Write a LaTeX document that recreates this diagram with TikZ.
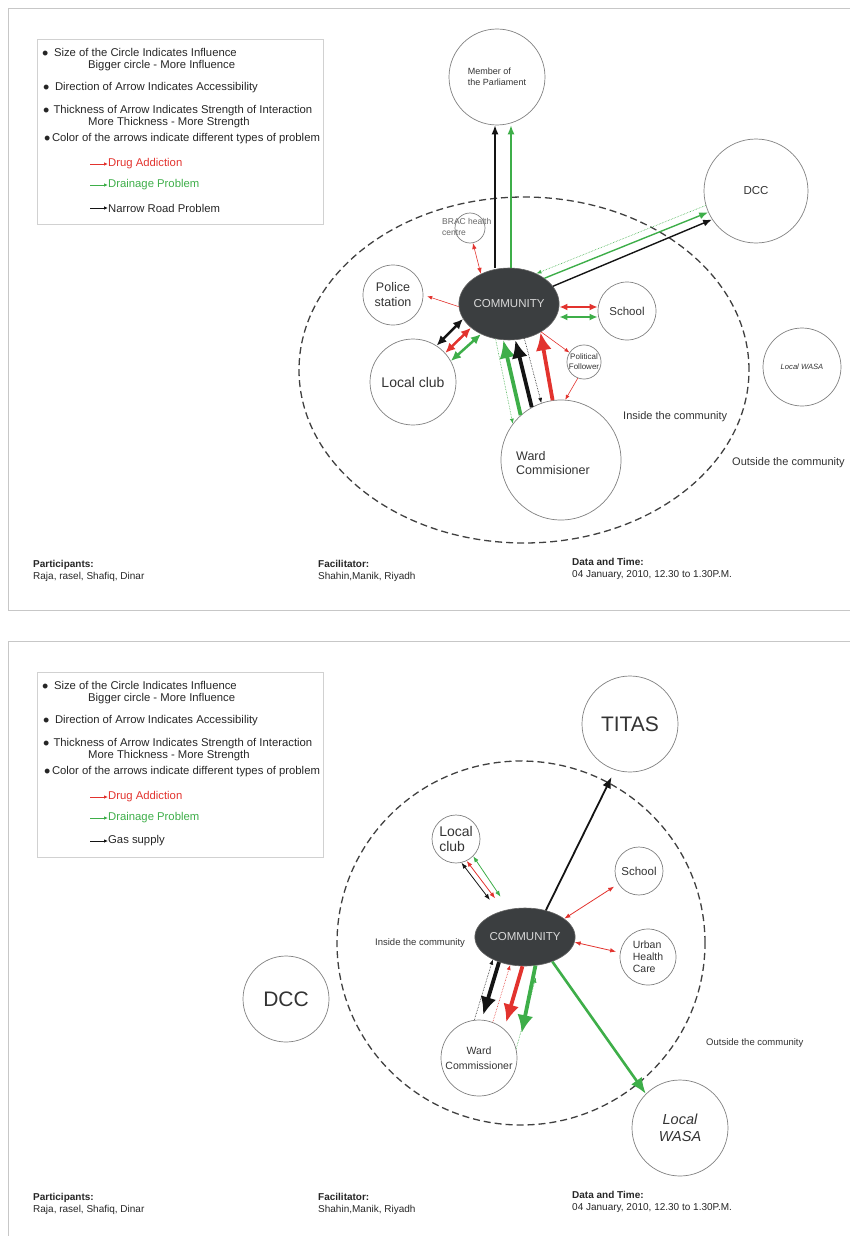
\documentclass[tikz,border=0pt]{standalone}
\usepackage{fontspec}
\setmainfont{Liberation Sans}
\usetikzlibrary{arrows.meta,shapes.geometric}
\definecolor{drug}{HTML}{E2332E}
\definecolor{drain}{HTML}{3EAE49}
\definecolor{road}{HTML}{141414}
\definecolor{hubgray}{HTML}{3B3E40}
\newcommand{\fsz}[2]{\fontsize{#1}{#2}\selectfont}
\newcommand{\dotmark}{\raisebox{-2.6pt}{\fsz{18}{12}\textbullet}}
\tikzset{
  frame/.style={draw=black!22,line width=0.9pt},
  legbox/.style={draw=black!18,line width=0.7pt},
  legtxt/.style={anchor=west,inner sep=0pt,font=\fsz{11.3}{13},text=black!85},
  legarr/.style={line width=0.9pt,-{Latex[length=4pt,width=3.5pt]}},
  foot/.style={anchor=west,align=left,inner sep=0pt,font=\fsz{10}{11.5},text=black!85},
  actor/.style={circle,draw=black!50,line width=0.7pt,inner sep=0pt,align=center,text=black!80},
  hub/.style={ellipse,fill=hubgray,draw=black!60,line width=0.6pt,inner sep=0pt,text=white!85!black},
  bound/.style={draw=black!75,line width=1.3pt,dash pattern=on 7pt off 4pt},
  zone/.style={anchor=west,inner sep=0pt,text=black!80},
  lite/.style={line width=0.6pt,-{Latex[length=5pt,width=4pt]}},
  litex/.style={line width=0.8pt,{Latex[length=6pt,width=4.5pt]}-{Latex[length=6pt,width=4.5pt]}},
  dots/.style={line width=0.6pt,densely dotted,-{Latex[length=5pt,width=4pt]}},
  mid/.style={line width=1.4pt,-{Latex[length=9pt,width=7pt]}},
  midx/.style={line width=1.8pt,{Latex[length=8pt,width=7pt]}-{Latex[length=8pt,width=7pt]}},
  boldx/.style={line width=2.5pt,{Latex[length=10pt,width=9pt]}-{Latex[length=10pt,width=9pt]}},
  bold/.style={line width=3.8pt,-{Latex[length=18pt,width=16pt]}}
}
\begin{document}
\begin{tikzpicture}[x=1pt,y=-1pt]
\useasboundingbox (0,0) rectangle (850,1236);
\draw[frame] (850,8) -- (8,8) -- (8,610) -- (850,610);
\draw[frame] (850,641) -- (8,641) -- (8,1236);

% legend and footer of both panels
\foreach \oy/\last in {0/Narrow Road Problem,633/Gas supply}{
  \draw[legbox] (37,39+\oy) rectangle (323,224+\oy);
  \node[legtxt] (size\oy) at (42,54+\oy) {\dotmark\hspace{5.5pt}Size of the Circle Indicates Influence};
  \node[legtxt] (big\oy) at (88,66+\oy) {Bigger circle - More Influence};
  \node[legtxt] (dir\oy) at (43,88+\oy) {\dotmark\hspace{5.5pt}Direction of Arrow Indicates Accessibility};
  \node[legtxt] (thick\oy) at (43,111+\oy) {\dotmark\hspace{4pt}Thickness of Arrow Indicates Strength of Interaction};
  \node[legtxt] (more\oy) at (88,123+\oy) {More Thickness - More Strength};
  \node[legtxt] (col\oy) at (44,139+\oy) {\dotmark\hspace{1.5pt}Color of the arrows indicate different types of problem};
  \node[legtxt,text=drug] (da\oy) at (108,164+\oy) {Drug Addiction};
  \node[legtxt,text=drain] (dp\oy) at (108,185+\oy) {Drainage Problem};
  \node[legtxt] (third\oy) at (108,208+\oy) {\last};
  \draw[legarr,drug] ([xshift=-18pt]da\oy.west) -- (da\oy.west);
  \draw[legarr,drain] ([xshift=-18pt]dp\oy.west) -- (dp\oy.west);
  \draw[legarr,road] ([xshift=-18pt]third\oy.west) -- (third\oy.west);
  \node[foot] (part\oy) at (33,571+\oy) {\textbf{Participants:}\\Raja, rasel, Shafiq, Dinar};
  \node[foot] (faci\oy) at (318,571+\oy) {\textbf{Facilitator:}\\Shahin,Manik, Riyadh};
  \node[foot] (date\oy) at (572,569+\oy) {\textbf{Data and Time:}\\04 January, 2010, 12.30 to 1.30P.M.};
}

% first panel
\draw[bound] (524,370) ellipse [x radius=225pt, y radius=173pt];
\node[actor,minimum size=96pt,font=\fsz{9}{10.5},align=left] (mp) at (497,77) {Member of\\the Parliament};
\node[actor,minimum size=104pt,font=\fsz{11.5}{13}] (dcc) at (756,191) {DCC};
\node[actor,minimum size=78pt,font=\itshape\fsz{7.6}{9}] (wasa) at (802,367) {Local WASA};
\node[actor,minimum size=30pt] (brac) at (470,228) {};
\node[zone,font=\fsz{8.5}{10.5},text=black!60,align=left] (bractxt) at (442,227) {BRAC health\\centre};
\node[actor,minimum size=60pt,font=\fsz{12.5}{15}] (police) at (393,295) {Police\\station};
\node[hub,minimum width=91pt,minimum height=72pt,font=\fsz{11.5}{13}] (comm) at (509,304) {COMMUNITY};
\node[actor,minimum size=58pt,font=\fsz{11.5}{13}] (school) at (627,311) {School};
\node[actor,minimum size=86pt,font=\fsz{14}{16}] (club) at (413,382) {Local club};
\node[actor,minimum size=34pt,font=\fsz{8}{10}] (pf) at (584,362) {Political\\Follower};
\node[actor,minimum size=120pt,font=\fsz{12.5}{14}] (ward) at (561,460) {\begin{tabular}{@{}l@{}}\rule{0pt}{20pt}Ward\\Commisioner\end{tabular}\hspace*{16pt}};
\node[zone,font=\fsz{11}{13}] (inside) at (623,417) {Inside the community};
\node[zone,font=\fsz{11}{13}] (outside) at (732,463) {Outside the community};

\draw[road,mid] ([xshift=-14pt]comm.north) -- ([xshift=-2pt]mp.south);
\draw[drain,mid] ([xshift=2pt]comm.north) -- ([xshift=14pt]mp.south);
\draw[road,mid] (comm.22) -- (dcc.213);
\draw[drain,mid] (comm.36) -- (dcc.204);
\draw[drain,dots] (dcc.196) -- (comm.48);
\draw[drug,litex,line width=0.6pt] (brac.281) -- (comm.133);
\draw[drug,lite,shorten >=4pt] (comm.183) -- (police.0);
\draw[drug,midx] ([yshift=-3pt]comm.east) -- ([yshift=4pt]school.west);
\draw[drain,midx] ([yshift=-13pt]comm.east) -- ([yshift=-6pt]school.west);
\draw[road,boldx] (club.57) -- (comm.198);
\draw[drug,boldx] (club.42) -- (comm.212);
\draw[drain,boldx] (club.29) -- (comm.227);
\draw[drug,lite] (comm.319) -- (pf.147);
\draw[drug,lite] (pf.249) -- (ward.86);
\draw[drain,bold] (ward.132) -- (comm.261);
\draw[road,bold] (ward.119) -- (comm.280);
\draw[drug,bold] (ward.98) -- (comm.318);
\draw[drain,dots] (comm.249) -- (ward.143);
\draw[road,dots] (comm.294) -- (ward.109);

% second panel
\draw[bound] (521,943) ellipse [x radius=184pt, y radius=182pt];
\node[actor,minimum size=96pt,font=\fsz{21}{24}] (titas) at (630,724) {TITAS};
\node[actor,minimum size=86pt,font=\fsz{21}{24}] (dcc2) at (286,999) {DCC};
\node[actor,minimum size=48pt,font=\fsz{14}{15},align=left] (club2) at (456,839) {Local\\club};
\node[actor,minimum size=48pt,font=\fsz{11.5}{13}] (school2) at (639,871) {School};
\node[actor,minimum size=56pt,font=\fsz{10.5}{12},align=left] (urban) at (648,957) {Urban\\Health\\Care};
\node[hub,minimum width=94pt,minimum height=58pt,font=\fsz{11.5}{13}] (comm2) at (525,937) {COMMUNITY};
\node[actor,minimum size=76pt,font=\fsz{10.5}{15}] (ward2) at (479,1058) {Ward\\Commissioner};
\node[actor,minimum size=96pt,font=\itshape\fsz{14.5}{17}] (wasa2) at (680,1128) {Local\\WASA};
\node[zone,font=\fsz{9.5}{11}] (inside2) at (375,943) {Inside the community};
\node[zone,font=\fsz{9.5}{11}] (outside2) at (706,1043) {Outside the community};

\draw[road,line width=1.8pt,-{Latex[length=11pt,width=9pt]},shorten >=8pt] (comm2.52) -- (titas.252);
\draw[drug,litex,shorten >=5pt] (comm2.25) -- (school2.212);
\draw[drug,litex,shorten >=4pt] (comm2.354) -- (urban.171);
\draw[road,litex,shorten >=15pt] (club2.283) -- (comm2.136);
\draw[drug,litex,shorten >=15pt] (club2.296) -- (comm2.128);
\draw[drain,litex,shorten >=15pt] (club2.315) -- (comm2.120);
\draw[road,bold,shorten >=5pt] (comm2.224) -- (ward2.86);
\draw[drug,bold,shorten >=7pt] (comm2.265) -- (ward2.49);
\draw[drain,bold,shorten >=22pt] (comm2.290) -- (ward2.5);
\draw[road,dots] (ward2.97) -- (comm2.215);
\draw[drug,dots] (ward2.69) -- (comm2.242);
\draw[drain,dots,shorten >=13pt] (ward2.14) -- (comm2.297);
\draw[drain,line width=2.6pt,-{Latex[length=16pt,width=13pt]}] (comm2.318) -- (wasa2.135);
\end{tikzpicture}
\end{document}
